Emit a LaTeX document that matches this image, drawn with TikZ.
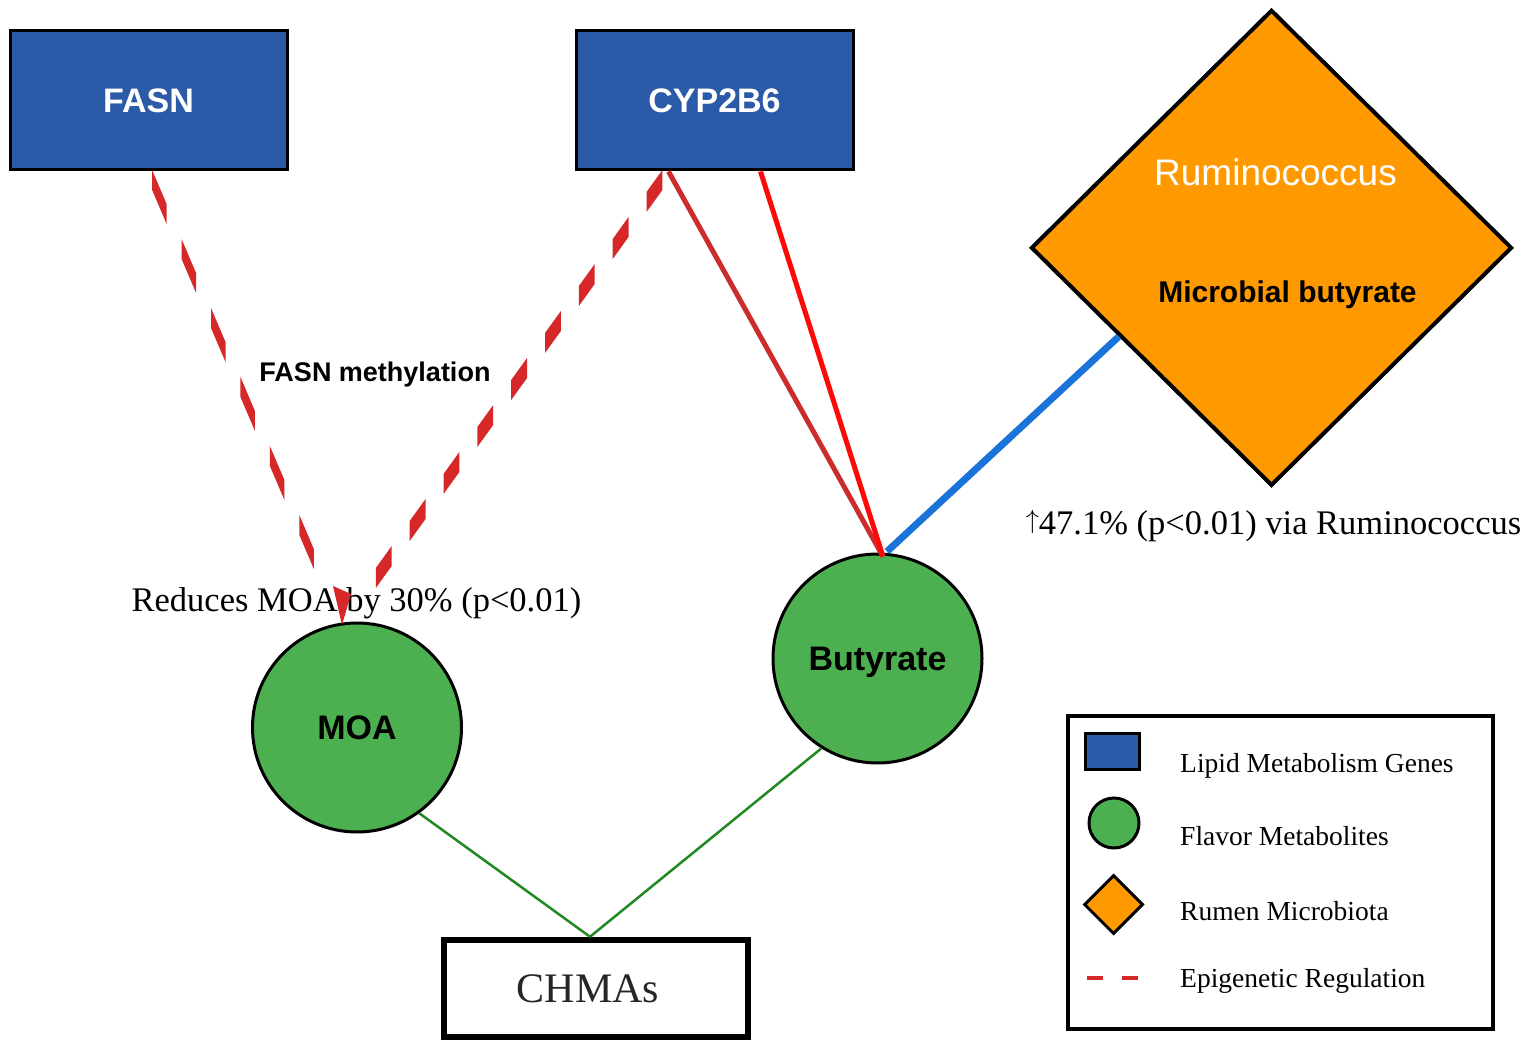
\documentclass[tikz,border=0pt]{standalone}
\usepackage{fontspec}
\usepackage{graphicx}
\setmainfont{Liberation Serif}
\newfontfamily\sansf{Liberation Sans}
\usetikzlibrary{shapes.geometric,calc}
\definecolor{geneblue}{RGB}{43,91,168}
\definecolor{metgreen}{RGB}{77,176,80}
\definecolor{microrange}{RGB}{255,153,0}
\definecolor{dashred}{RGB}{214,40,40}
\definecolor{linered}{RGB}{204,44,44}
\definecolor{brightred}{RGB}{255,8,8}
\definecolor{linkblue}{RGB}{26,115,217}
\definecolor{linkgreen}{RGB}{34,136,34}
\tikzset{
  gene/.style={rectangle, draw=black, line width=3pt, fill=geneblue, minimum width=277pt, minimum height=139pt, inner sep=0pt, text=white, font=\sansf\bfseries\fontsize{34}{40}\selectfont},
  metab/.style={circle, draw=black, line width=3pt, fill=metgreen, minimum size=209pt, inner sep=0pt, text depth=0pt, text=black, font=\sansf\bfseries\fontsize{34}{40}\selectfont},
  micro/.style={diamond, draw=black, line width=4pt, fill=microrange, minimum width=481pt, minimum height=476pt, inner sep=0pt},
  chmas/.style={rectangle, draw=black, line width=6.5pt, fill=white, minimum width=304pt, minimum height=97pt, inner sep=0pt, text=black!85, font=\fontsize{42}{50}\selectfont},
  rumtext/.style={inner sep=0pt, anchor=base, text=white, font=\sansf\fontsize{37}{44}\selectfont},
  microtext/.style={inner sep=0pt, anchor=base, text=black, font=\sansf\bfseries\fontsize{30}{36}\selectfont},
  methtext/.style={inner sep=0pt, anchor=base, text=black, font=\sansf\bfseries\fontsize{27}{32}\selectfont},
  serlbl/.style={inner sep=0pt, anchor=base, text=black, font=\fontsize{34.5}{40}\selectfont},
  legbox/.style={rectangle, draw=black, line width=4pt, fill=white, minimum width=425pt, minimum height=313pt, inner sep=0pt},
  genelegend/.style={rectangle, draw=black, line width=3pt, fill=geneblue, minimum width=54pt, minimum height=36pt, inner sep=0pt},
  metablegend/.style={circle, draw=black, line width=3pt, fill=metgreen, minimum size=50pt, inner sep=0pt},
  microlegend/.style={diamond, draw=black, line width=3pt, fill=microrange, minimum width=59pt, minimum height=59pt, inner sep=0pt},
  legtext/.style={inner sep=0pt, anchor=base west, text=black, font=\fontsize{27.5}{33}\selectfont},
  legdash/.style={draw=dashred, line width=4pt},
  solidred/.style={draw=linered, line width=5pt},
  brightline/.style={draw=brightred, line width=5pt},
  bluelink/.style={draw=linkblue, line width=7pt},
  greenlink/.style={draw=linkgreen, line width=2.5pt},
}
\newcommand{\uparr}{\raisebox{5.1pt}{\resizebox*{!}{23.5pt}{$\uparrow$}}}
\begin{document}
\begin{tikzpicture}[x=1pt,y=-1pt]
\fill[white] (0,0) rectangle (1535,1051);
\useasboundingbox (0,0) rectangle (1535,1051);

% main nodes
\node[gene] (fasn) at (148.5,100.5) {FASN};
\node[gene] (cyp) at (714.5,100.5) {CYP2B6};
\node[micro] (rum) at (1271.5,247.8) {};
\node[metab] (moa) at (357,727.5) {MOA};
\node[metab] (but) at (877.5,658.5) {Butyrate};
\node[chmas] (chm) at (596,988.5) {\hspace*{-16pt}CHMAs};

% texts
\node[rumtext] (rumlbl) at (1275.5,186) {Ruminococcus};
\node[microtext] (mblbl) at (1287.5,302) {Microbial butyrate};
\node[methtext] (methlbl) at (375,381) {FASN methylation};
\node[serlbl] (redlbl) at (356.5,611) {Reduces MOA by 30\% (p<0.01)};
\node[serlbl] (uplbl) at (1273.5,534) {\uparr47.1\% (p<0.01) via Ruminococcus};

% connector end points
\coordinate (fasnout) at (fasn.south);
\coordinate (cypout) at ($(cyp.south)+(-46,0)$);
\coordinate (cypout2) at ($(cyp.south)+(46,0)$);
\coordinate (moain) at ($(moa.north)+(-15,3.5)$);
\coordinate (butin) at ($(but.north)+(5.5,4)$);
\coordinate (butout) at ($(but.north)+(9.5,-1)$);
\coordinate (rumin) at ($(rum.west)!0.37!(rum.south)$);
\coordinate (chmin) at ($(chm.north)+(-6,0)$);

% solid connectors
\draw[solidred] (cypout) -- (butin);
\draw[brightline] (cypout2) -- (butin);
\draw[bluelink] (butout) -- (rumin);
\draw[greenlink] (moa.-54) -- (chmin);
\draw[greenlink] (but.-122) -- (chmin);

% dashed (epigenetic) connectors
\begin{scope}
\clip (0,172) rectangle (1535,1051);
\foreach \k in {0,...,5}{
  \pgfmathsetmacro\ya{max(171.5,180+69*\k)}
  \pgfmathsetmacro\yb{214+69*\k}
  \pgfmathsetmacro\ta{(\ya-171.5)/453.5}
  \pgfmathsetmacro\tb{(\yb-171.5)/453.5}
  \fill[dashred] ($(fasnout)!\ta!(moain)+(0,-10)$) -- ($(fasnout)!\ta!(moain)+(0,10)$) -- ($(fasnout)!\tb!(moain)+(0,10)$) -- ($(fasnout)!\tb!(moain)+(0,-10)$) -- cycle;
}
\foreach \k in {0,...,8}{
  \pgfmathsetmacro\ya{max(171.5,180+47*\k)}
  \pgfmathsetmacro\yb{202+47*\k}
  \pgfmathsetmacro\ta{(\ya-171.5)/453.5}
  \pgfmathsetmacro\tb{(\yb-171.5)/453.5}
  \fill[dashred] ($(cypout)!\ta!(moain)+(0,-10)$) -- ($(cypout)!\ta!(moain)+(0,10)$) -- ($(cypout)!\tb!(moain)+(0,10)$) -- ($(cypout)!\tb!(moain)+(0,-10)$) -- cycle;
}
\end{scope}
\fill[dashred] ($(moain)+(-9,-39)$) -- ($(moain)+(9,-31)$) -- (moain) -- cycle;

% legend
\node[legbox] (leg) at (1280.5,872.5) {};
\node[genelegend] (lg1) at (1112.5,751) {};
\node[metablegend] (lg2) at (1114,823) {};
\node[microlegend] (lg3) at (1113.5,904.5) {};
\draw[legdash] (1087,978) -- (1103,978) (1122,978) -- (1138,978);
\node[legtext] (lt1) at (1180,772) {Lipid Metabolism Genes};
\node[legtext] (lt2) at (1180,845) {Flavor Metabolites};
\node[legtext] (lt3) at (1180,920) {Rumen Microbiota};
\node[legtext] (lt4) at (1180,987) {Epigenetic Regulation};
\end{tikzpicture}
\end{document}
